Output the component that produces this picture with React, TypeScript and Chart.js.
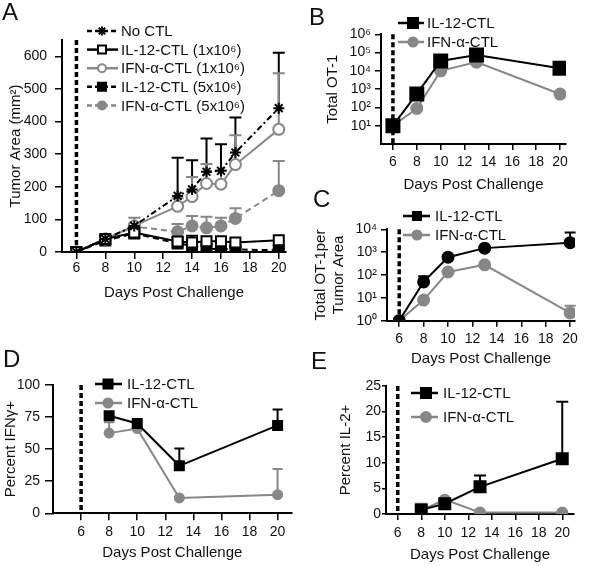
import React, { useEffect, useRef } from 'react';
import { Chart, registerables } from 'chart.js';

Chart.register(...registerables);

const FONT = '"Liberation Sans", Arial, Helvetica, sans-serif';
const INK = '#111111';
const BLACK = '#000000';
const GRAY = '#878787';

// ---------- Panel A : tumor area ----------
const daysA = [6, 8, 10, 13, 14, 15, 16, 17, 20];
const noCtlA = [0, 40, 80, 172, 192, 246, 249, 305, 441];
const noCtlErrA = [null, null, null, 289, 281, 348, 330, 412, 611];
const il12LowA = [0, 40, 60, 32, 29, 33, 33, 29, 36];
const il12LowErrA = [null, 50, null, 45, 50, null, null, null, null];
const ifnLowA = [0, 40, 80, 140, 170, 210, 208, 268, 376];
const ifnLowErrA = [null, 50, 105, 165, 230, 270, 250, 358, 548];
const il12HighA = [0, 35, 57, 26, 20, 9, 10, 8, 5];
const il12HighErrA = [null, null, 65, null, 30, null, 20, 18, 10];
const ifnHighA = [0, 40, 78, 62, 80, 74, 80, 103, 188];
const ifnHighErrA = [null, null, null, 86, 110, 108, 105, 134, 279];
const xTicksA = [6, 8, 10, 12, 14, 16, 18, 20];
const yTicksA = [0, 100, 200, 300, 400, 500, 600];

// ---------- Panel B : total OT-1 ----------
const daysB = [6, 8, 10, 13, 20];
const il12B = [10, 550, 35000, 74000, 14000];
const ifnB = [10, 88, 10000, 30000, 540];
const yTicksB = [1e1, 1e2, 1e3, 1e4, 1e5, 1e6];
const yLabelsB = ['10¹', '10²', '10³', '10⁴', '10⁵', '10⁶'];

// ---------- Panel C : OT-1 per tumor area ----------
const daysC = [6, 8, 10, 13, 20];
const il12C = [1, 50, 600, 1500, 2600];
const il12ErrC = [null, 88, null, null, 7200];
const ifnC = [1, 8, 135, 280, 2.2];
const ifnErrC = [null, null, null, null, 4.5];
const yTicksC = [1, 1e1, 1e2, 1e3, 1e4];
const yLabelsC = ['10⁰', '10¹', '10²', '10³', '10⁴'];

// ---------- Panel D : percent IFNγ+ ----------
const daysD = [8, 10, 13, 20];
const il12D = [76, 70, 37, 68.5];
const il12ErrD = [78.5, null, 50.5, 81];
const ifnD = [62.5, 66, 12, 14.5];
const ifnErrD = [71, null, null, 34.5];
const yTicksD = [0, 25, 50, 75, 100];

// ---------- Panel E : percent IL-2+ ----------
const daysE = [8, 10, 13, 20];
const il12E = [0.8, 2.0, 5.3, 10.8];
const il12ErrE = [null, null, 7.5, 21.9];
const ifnE = [0.7, 2.8, 0.3, 0.3];
const ifnErrE = [2.0, null, null, null];
const yTicksE = [0, 5, 10, 15, 20, 25];

const xTicksStd = [6, 8, 10, 12, 14, 16, 18, 20];

type Marker = 'rect' | 'circle' | 'star';
type Series = {
  label: string;
  values: number[];
  err?: (number | null)[];
  color: string;
  dash: number[];
  marker: Marker;
  size: number;
  filled: boolean;
  legendMarker?: Marker;
  legendSize?: number;
};
type Panel = {
  box: { x: number; y: number; w: number; h: number };
  area: { l: number; t: number; r: number; b: number };
  days: number[];
  xMin: number;
  xMax: number;
  xTicks: number[];
  xTickLen: number;
  xTickCenter: number;
  xTitle: string;
  xTitleCenter: number;
  yLog: boolean;
  yMin: number;
  yMax: number;
  yTicks: number[];
  yLabels?: string[];
  yTickLen: number;
  yLabelRight: number;
  yTitle: string | string[];
  yTitleCenter: number;
  capW: number;
  series: Series[];
  legend: { x0: number; y0: number; step: number; lineLen: number; markerX: number; textX: number };
};

const BW = 2;

function drawMarker(ctx: CanvasRenderingContext2D, m: Marker, x: number, y: number, size: number, color: string, filled: boolean) {
  ctx.save();
  ctx.setLineDash([]);
  ctx.lineWidth = BW;
  ctx.strokeStyle = color;
  ctx.fillStyle = filled ? color : '#ffffff';
  const s = size - BW;
  ctx.beginPath();
  if (m === 'rect') {
    ctx.rect(x - s / 2, y - s / 2, s, s);
    ctx.fill();
    ctx.stroke();
  } else if (m === 'circle') {
    ctx.arc(x, y, s / 2, 0, Math.PI * 2);
    ctx.fill();
    ctx.stroke();
  } else {
    const r = s / 2;
    for (let k = 0; k < 4; k++) {
      const a = (k * Math.PI) / 4;
      ctx.moveTo(x - Math.cos(a) * r, y - Math.sin(a) * r);
      ctx.lineTo(x + Math.cos(a) * r, y + Math.sin(a) * r);
    }
    ctx.stroke();
  }
  ctx.restore();
}

function pointRadius(m: Marker, size: number) {
  const s = size - BW;
  return m === 'rect' ? s / Math.SQRT2 : s / 2;
}

const panelA: Panel = {
  box: { x: 0, y: 0, w: 300, h: 310 },
  area: { l: 62, t: 40, r: 286, b: 252 },
  days: daysA,
  xMin: 5, xMax: 20.5, xTicks: xTicksA, xTickLen: 7, xTickCenter: 268.5,
  xTitle: 'Days Post Challenge', xTitleCenter: 293,
  yLog: false, yMin: 0, yMax: 650, yTicks: yTicksA, yTickLen: 7, yLabelRight: 47,
  yTitle: 'Tumor Area (mm²)', yTitleCenter: 15.5,
  capW: 12,
  series: [
    { label: 'No CTL', values: noCtlA, err: noCtlErrA, color: BLACK, dash: [6, 3, 2, 3], marker: 'star', size: 13, filled: true, legendSize: 11 },
    { label: 'IL-12-CTL (1x10⁶)', values: il12LowA, err: il12LowErrA, color: BLACK, dash: [], marker: 'rect', size: 12, filled: false, legendSize: 10 },
    { label: 'IFN-α-CTL (1x10⁶)', values: ifnLowA, err: ifnLowErrA, color: GRAY, dash: [], marker: 'circle', size: 13, filled: false, legendSize: 10 },
    { label: 'IL-12-CTL (5x10⁶)', values: il12HighA, err: il12HighErrA, color: BLACK, dash: [6, 4], marker: 'rect', size: 12, filled: true, legendSize: 10 },
    { label: 'IFN-α-CTL (5x10⁶)', values: ifnHighA, err: ifnHighErrA, color: GRAY, dash: [6, 4], marker: 'circle', size: 13, filled: true, legendSize: 10 },
  ],
  legend: { x0: 87, y0: 31, step: 18.6, lineLen: 31, markerX: 102, textX: 121 },
};

const panelB: Panel = {
  box: { x: 300, y: 0, w: 300, h: 195 },
  area: { l: 381, t: 34.3, r: 566, b: 144 },
  days: daysB,
  xMin: 5, xMax: 20.5, xTicks: xTicksStd, xTickLen: 6, xTickCenter: 162,
  xTitle: 'Days Post Challenge', xTitleCenter: 185,
  yLog: true, yMin: 1, yMax: 1e6, yTicks: yTicksB, yLabels: yLabelsB, yTickLen: 6, yLabelRight: 371,
  yTitle: 'Total OT-1', yTitleCenter: 332.5,
  capW: 10,
  series: [
    { label: 'IL-12-CTL', values: il12B, color: BLACK, dash: [], marker: 'rect', size: 15, filled: true, legendSize: 12 },
    { label: 'IFN-α-CTL', values: ifnB, color: GRAY, dash: [], marker: 'circle', size: 13, filled: true, legendSize: 11 },
  ],
  legend: { x0: 398, y0: 23, step: 19, lineLen: 26, markerX: 413, textX: 427 },
};

const panelC: Panel = {
  box: { x: 300, y: 195, w: 300, h: 175 },
  area: { l: 387, t: 229.3, r: 575, b: 320.7 },
  days: daysC,
  xMin: 5, xMax: 20.4, xTicks: xTicksStd, xTickLen: 6, xTickCenter: 339.5,
  xTitle: 'Days Post Challenge', xTitleCenter: 359,
  yLog: true, yMin: 1, yMax: 1e4, yTicks: yTicksC, yLabels: yLabelsC, yTickLen: 6, yLabelRight: 377,
  yTitle: ['Total OT-1per', 'Tumor Area'], yTitleCenter: 321,
  capW: 11,
  series: [
    { label: 'IL-12-CTL', values: il12C, err: il12ErrC, color: BLACK, dash: [], marker: 'circle', size: 13, filled: true, legendMarker: 'rect', legendSize: 10 },
    { label: 'IFN-α-CTL', values: ifnC, err: ifnErrC, color: GRAY, dash: [], marker: 'circle', size: 13, filled: true, legendSize: 11 },
  ],
  legend: { x0: 403, y0: 216, step: 19, lineLen: 27, markerX: 417, textX: 435 },
};

const panelD: Panel = {
  box: { x: 0, y: 360, w: 300, h: 206 },
  area: { l: 53, t: 385, r: 293.4, b: 513.3 },
  days: daysD,
  xMin: 4, xMax: 21, xTicks: xTicksStd, xTickLen: 7, xTickCenter: 532,
  xTitle: 'Days Post Challenge', xTitleCenter: 552.7,
  yLog: false, yMin: 0, yMax: 100, yTicks: yTicksD, yTickLen: 8, yLabelRight: 40,
  yTitle: 'Percent IFNγ+', yTitleCenter: 11,
  capW: 10,
  series: [
    { label: 'IL-12-CTL', values: il12D, err: il12ErrD, color: BLACK, dash: [], marker: 'rect', size: 11, filled: true, legendSize: 11 },
    { label: 'IFN-α-CTL', values: ifnD, err: ifnErrD, color: GRAY, dash: [], marker: 'circle', size: 11, filled: true, legendSize: 11 },
  ],
  legend: { x0: 95, y0: 384, step: 19, lineLen: 27, markerX: 108, textX: 127 },
};

const panelE: Panel = {
  box: { x: 300, y: 370, w: 300, h: 196 },
  area: { l: 386, t: 386, r: 574, b: 514 },
  days: daysE,
  xMin: 5, xMax: 21, xTicks: xTicksStd, xTickLen: 6, xTickCenter: 533,
  xTitle: 'Days Post Challenge', xTitleCenter: 555,
  yLog: false, yMin: 0, yMax: 25, yTicks: yTicksE, yTickLen: 4, yLabelRight: 381,
  yTitle: 'Percent IL-2+', yTitleCenter: 345.5,
  capW: 12,
  series: [
    { label: 'IL-12-CTL', values: il12E, err: il12ErrE, color: BLACK, dash: [], marker: 'rect', size: 13, filled: true, legendSize: 12 },
    { label: 'IFN-α-CTL', values: ifnE, err: ifnErrE, color: GRAY, dash: [], marker: 'circle', size: 12, filled: true, legendSize: 12 },
  ],
  legend: { x0: 411, y0: 393, step: 24, lineLen: 27, markerX: 426, textX: 443 },
};

const panels: Panel[] = [panelA, panelB, panelC, panelD, panelE];

const letters = [
  { t: 'A', x: 2, y: 0 },
  { t: 'B', x: 309, y: 5 },
  { t: 'C', x: 313, y: 187 },
  { t: 'D', x: 3, y: 347 },
  { t: 'E', x: 311, y: 349 },
];

function PanelChart({ p }: { p: Panel }) {
  const ref = useRef<HTMLCanvasElement>(null);
  useEffect(() => {
    const canvas = ref.current;
    if (!canvas) return;
    const tickLH = 14 * 1.2;
    const titleLH = 15 * 1.2;
    const { box, area } = p;

    const deco = {
      id: 'deco',
      beforeDatasetsDraw(chart: any) {
        const { ctx, chartArea, scales } = chart;
        const xs = scales.x;
        const ys = scales.y;
        ctx.save();
        // dashed marker line at day 6
        const x6 = xs.getPixelForValue(6);
        ctx.strokeStyle = BLACK;
        ctx.lineWidth = 3.5;
        ctx.setLineDash([5, 3]);
        ctx.beginPath();
        ctx.moveTo(x6, chartArea.top);
        ctx.lineTo(x6, chartArea.bottom);
        ctx.stroke();
        ctx.setLineDash([]);
        // error bars (upper)
        p.series.forEach((s) => {
          if (!s.err) return;
          ctx.strokeStyle = s.color;
          ctx.lineWidth = 2;
          s.err.forEach((e, j) => {
            if (e == null) return;
            const x = xs.getPixelForValue(p.days[j]);
            const y0 = ys.getPixelForValue(s.values[j]);
            const y1 = ys.getPixelForValue(e);
            ctx.beginPath();
            ctx.moveTo(x, y0);
            ctx.lineTo(x, y1);
            ctx.moveTo(x - p.capW / 2, y1);
            ctx.lineTo(x + p.capW / 2, y1);
            ctx.stroke();
          });
        });
        ctx.restore();
      },
      afterDraw(chart: any) {
        const ctx: CanvasRenderingContext2D = chart.ctx;
        const L = p.legend;
        ctx.save();
        p.series.forEach((s, i) => {
          const y = L.y0 + i * L.step - box.y;
          const x0 = L.x0 - box.x;
          ctx.strokeStyle = s.color;
          ctx.lineWidth = 2.5;
          ctx.setLineDash(s.dash.length ? [5, 3] : []);
          ctx.beginPath();
          ctx.moveTo(x0, y);
          ctx.lineTo(x0 + L.lineLen, y);
          ctx.stroke();
          drawMarker(ctx, s.legendMarker || s.marker, L.markerX - box.x, y, s.legendSize || s.size, s.color, s.filled);
          ctx.setLineDash([]);
          ctx.fillStyle = INK;
          ctx.font = `15px ${FONT}`;
          ctx.textBaseline = 'middle';
          ctx.textAlign = 'left';
          ctx.fillText(s.label, L.textX - box.x, y + 1);
        });
        ctx.restore();
      },
    };

    const gridCommon = {
      display: true,
      drawOnChartArea: false,
      drawTicks: true,
      color: BLACK,
      lineWidth: 1.5,
    };

    const datasets = p.series.map((s, i) => ({
      label: s.label,
      data: p.days.map((d, j) => ({ x: d, y: s.values[j] })),
      borderColor: s.color,
      borderWidth: 2,
      borderDash: s.dash,
      pointStyle: s.marker === 'rect' ? 'rect' : s.marker === 'circle' ? 'circle' : 'star',
      pointRadius: pointRadius(s.marker, s.size),
      pointBorderWidth: BW,
      pointBorderColor: s.color,
      pointBackgroundColor: s.filled ? s.color : '#ffffff',
      tension: 0,
      fill: false,
      order: i,
    }));

    const chart = new Chart(canvas, {
      type: 'line',
      data: { datasets } as any,
      options: {
        responsive: false,
        animation: false,
        events: [],
        layout: {
          padding: { left: 0, top: area.t - box.y, right: box.x + box.w - area.r, bottom: 0 },
        },
        plugins: {
          legend: { display: false },
          tooltip: { enabled: false },
        },
        scales: {
          x: {
            type: 'linear',
            min: p.xMin,
            max: p.xMax,
            afterBuildTicks: (ax: any) => {
              ax.ticks = p.xTicks.map((v) => ({ value: v }));
            },
            afterFit: (s: any) => {
              s.height = box.y + box.h - area.b;
            },
            grid: { ...gridCommon, tickLength: p.xTickLen },
            border: { display: true, color: BLACK, width: 2 },
            ticks: {
              color: INK,
              font: { family: FONT, size: 14, lineHeight: 1.2 },
              padding: Math.max(0, p.xTickCenter - area.b - p.xTickLen - tickLH / 2),
              maxRotation: 0,
              autoSkip: false,
            },
            title: {
              display: true,
              text: p.xTitle,
              color: INK,
              font: { family: FONT, size: 15, lineHeight: 1.2 },
              padding: { top: 0, bottom: Math.max(0, box.y + box.h - p.xTitleCenter - titleLH / 2) },
            },
          },
          y: {
            type: p.yLog ? 'logarithmic' : 'linear',
            min: p.yMin,
            max: p.yMax,
            afterBuildTicks: (ax: any) => {
              ax.ticks = p.yTicks.map((v) => ({ value: v }));
            },
            afterFit: (s: any) => {
              s.width = area.l - box.x;
            },
            grid: { ...gridCommon, tickLength: p.yTickLen },
            border: { display: true, color: BLACK, width: 2 },
            ticks: {
              color: INK,
              font: { family: FONT, size: 14, lineHeight: 1.2 },
              padding: Math.max(0, area.l - p.yTickLen - p.yLabelRight),
              autoSkip: false,
              callback: (v: any) => {
                if (p.yLabels) {
                  const k = p.yTicks.findIndex((t) => Math.abs(t - v) / t < 1e-6);
                  return k >= 0 ? p.yLabels[k] : '';
                }
                return String(v);
              },
            },
            title: {
              display: true,
              text: p.yTitle,
              color: INK,
              font: { family: FONT, size: 15, lineHeight: 1.2 },
              padding: { top: Math.max(0, p.yTitleCenter - box.x - titleLH / 2), bottom: 0 },
            },
          },
        },
      } as any,
      plugins: [deco as any],
    });
    return () => chart.destroy();
  }, [p]);
  return (
    <canvas
      ref={ref}
      width={p.box.w}
      height={p.box.h}
      style={{ position: 'absolute', left: p.box.x, top: p.box.y, width: p.box.w, height: p.box.h }}
    />
  );
}

export default function App() {
  return (
    <div style={{ position: 'absolute', left: 0, top: 0, width: 600, height: 566, background: '#ffffff', overflow: 'hidden' }}>
      {panels.map((p, i) => (
        <PanelChart key={i} p={p} />
      ))}
      {letters.map((l) => (
        <div
          key={l.t}
          style={{
            position: 'absolute',
            left: l.x,
            top: l.y,
            fontFamily: FONT,
            fontSize: 24,
            lineHeight: '24px',
            color: INK,
          }}
        >
          {l.t}
        </div>
      ))}
    </div>
  );
}
